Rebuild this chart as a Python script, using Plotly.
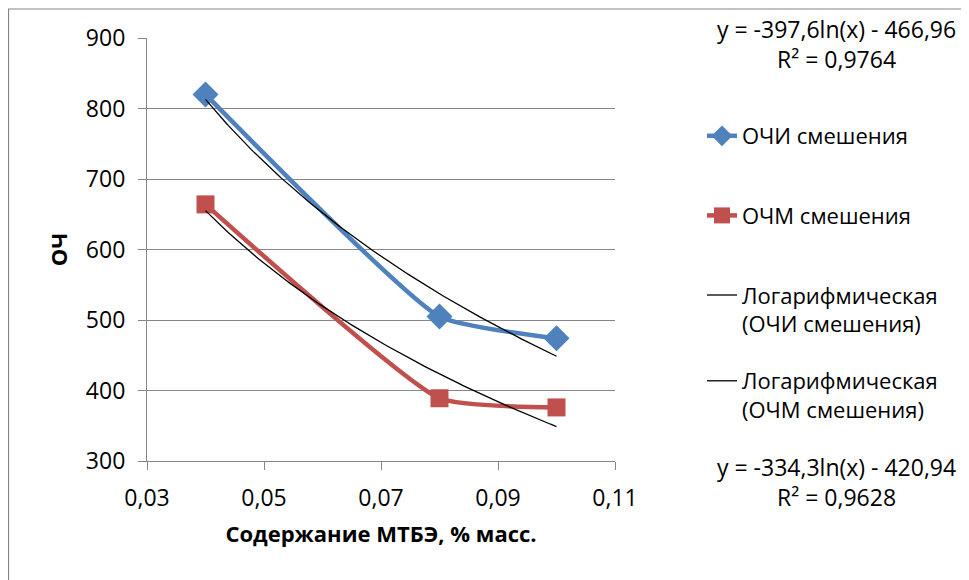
import numpy as np
import plotly.graph_objects as go

# ---- data ----
x_mtbe = [0.04, 0.08, 0.10]
ochi = [820, 505, 474]
ochm = [664, 389, 376]

# Excel logarithmic trendline coefficients (as printed on the chart)
trend_ochi = (-397.6, -466.96)
trend_ochm = (-334.3, -420.94)
eq_ochi = ["y = -397,6ln(x) - 466,96", "R² = 0,9764"]
eq_ochm = ["y = -334,3ln(x) - 420,94", "R² = 0,9628"]

x_ticks = [0.03, 0.05, 0.07, 0.09, 0.11]
y_ticks = [300, 400, 500, 600, 700, 800, 900]

FONT = "Open Sans"
BLUE = "#4F81BD"
RED = "#C0504D"
GRID = "#868686"

W, H = 969, 580
L, T = 139, 30
PW, PH = 468, 423
R = W - L - PW
B = H - T - PH
SMOOTH = 0.45


def px_x(xf):
    return (xf - L) / PW


def px_y(yf):
    return (T + PH - yf) / PH


xs = np.linspace(min(x_mtbe), max(x_mtbe), 200)

fig = go.Figure()
fig.add_trace(go.Scatter(
    x=x_mtbe, y=ochi, name="ОЧИ смешения", mode="lines+markers",
    line=dict(color=BLUE, width=4.5, shape="spline", smoothing=SMOOTH),
    marker=dict(symbol="diamond", size=20, color=BLUE),
    legendgroup="a"))
fig.add_trace(go.Scatter(
    x=x_mtbe, y=ochm, name="ОЧМ смешения", mode="lines+markers",
    line=dict(color=RED, width=4.5, shape="spline", smoothing=SMOOTH),
    marker=dict(symbol="square", size=18, color=RED),
    legendgroup="b"))
fig.add_trace(go.Scatter(
    x=xs, y=trend_ochi[0] * np.log(xs) + trend_ochi[1],
    name="Логарифмическая<br>(ОЧИ смешения)", mode="lines",
    line=dict(color="black", width=1.3), legendgroup="c"))
fig.add_trace(go.Scatter(
    x=xs, y=trend_ochm[0] * np.log(xs) + trend_ochm[1],
    name="Логарифмическая<br>(ОЧМ смешения)", mode="lines",
    line=dict(color="black", width=1.3), legendgroup="d", legend="legend2"))

annots = [
    dict(text=eq_ochi[0] + "<br>" + eq_ochi[1], x=px_x(828), y=px_y(36.5),
         xref="paper", yref="paper", showarrow=False, align="center",
         font=dict(family=FONT, size=23, color="black"), xanchor="center", yanchor="middle"),
    dict(text=eq_ochm[0] + "<br>" + eq_ochm[1], x=px_x(828), y=px_y(474),
         xref="paper", yref="paper", showarrow=False, align="center",
         font=dict(family=FONT, size=23, color="black"), xanchor="center", yanchor="middle"),
]

legend_style = dict(xanchor="left", yanchor="top", valign="top",
                    font=dict(family=FONT, size=22, color="black"),
                    tracegroupgap=48, bgcolor="rgba(0,0,0,0)")

fig.update_layout(
    width=W, height=H,
    margin=dict(l=L, r=R, t=T, b=B),
    paper_bgcolor="white", plot_bgcolor="white",
    separators=", ",
    font=dict(family=FONT, color="black"),
    showlegend=True,
    legend=dict(x=px_x(694), y=px_y(107), **legend_style),
    legend2=dict(x=px_x(694), y=px_y(352), **legend_style),
    annotations=annots,
    shapes=[dict(type="rect", xref="paper", yref="paper",
                 x0=px_x(0.5), x1=px_x(955), y0=px_y(620), y1=px_y(1),
                 line=dict(color=GRID, width=1.2), layer="below")],
)
fig.update_xaxes(range=[0.03, 0.11], tickvals=x_ticks, tickformat=".2f",
                 showgrid=False, showline=True, linecolor=GRID, linewidth=1.2,
                 ticks="outside", ticklen=8, tickcolor=GRID, ticklabelstandoff=8,
                 tickfont=dict(family=FONT, size=23), zeroline=False,
                 title=dict(text="<b>Содержание МТБЭ, % масс.</b>",
                            font=dict(family=FONT, size=22), standoff=14))
fig.update_yaxes(range=[300, 900], tickvals=y_ticks,
                 showgrid=True, gridcolor=GRID, gridwidth=1.2,
                 showline=True, linecolor=GRID, linewidth=1.2,
                 ticks="outside", ticklen=8, tickcolor=GRID, ticklabelstandoff=8,
                 tickfont=dict(family=FONT, size=23), zeroline=False,
                 title=dict(text="<b>ОЧ</b>", font=dict(family=FONT, size=22), standoff=12))

fig.write_html("out.html")
